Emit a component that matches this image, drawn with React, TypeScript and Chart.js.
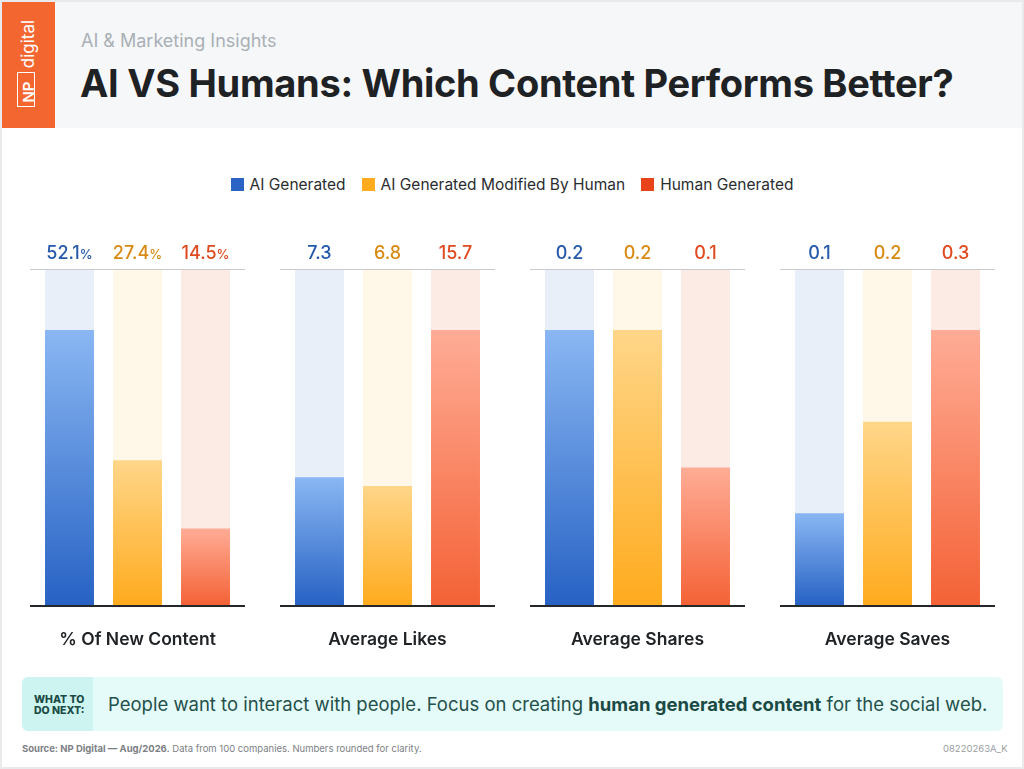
import { useEffect, useRef } from "react";
import { Chart, registerables } from "chart.js";

Chart.register(...registerables);

const FONT = "Inter, 'Noto Sans', sans-serif";

const categories = ["AI Generated", "AI Generated Modified By Human", "Human Generated"];
const newContentValues = [52.1, 27.4, 14.5];
const likesValues = [7.3, 6.8, 15.7];
const sharesValues = [0.2, 0.2, 0.1];
const savesValues = [0.1, 0.2, 0.3];

const barTop = ["#8ab7f3", "#ffd689", "#ffac96"];
const barBottom = ["#2762c4", "#ffab1e", "#f46236"];
const trackColors = ["#e8eff9", "#fff7e8", "#fceae5"];
const labelColors = ["#2559ab", "#d98a12", "#df4a20"];
const legendColors = ["#2a63c4", "#ffab1e", "#e8431a"];

interface PanelProps {
  title: string;
  values: number[];
  unit?: string;
}

const rulesAndLabels = {
  id: "rulesAndLabels",
  afterDraw(chart: any, _args: any, opts: any) {
    const { ctx, chartArea, width } = chart;
    ctx.save();
    ctx.fillStyle = "#c9cbce";
    ctx.fillRect(0, chartArea.top - 1, width, 1);
    ctx.fillStyle = "#25282b";
    ctx.fillRect(0, chartArea.bottom, width, 2);

    const meta = chart.getDatasetMeta(1);
    opts.values.forEach((v: number, i: number) => {
      const x = meta.data[i].x;
      const num = String(v);
      ctx.textBaseline = "alphabetic";
      ctx.fillStyle = labelColors[i];
      ctx.font = `500 18px ${FONT}`;
      const numW = ctx.measureText(num).width;
      ctx.font = `500 13px ${FONT}`;
      const unitW = opts.unit ? ctx.measureText(opts.unit).width : 0;
      const left = x - (numW + unitW) / 2;
      ctx.textAlign = "left";
      ctx.font = `500 18px ${FONT}`;
      ctx.fillText(num, left, chartArea.top - 11);
      if (opts.unit) {
        ctx.font = `500 13px ${FONT}`;
        ctx.fillText(opts.unit, left + numW, chartArea.top - 11);
      }
    });
    ctx.restore();
  },
};

const Panel = ({ title, values, unit }: PanelProps) => {
  const canvasRef = useRef<HTMLCanvasElement>(null);

  useEffect(() => {
    if (!canvasRef.current) return;

    // the tallest bar stops short of the top rule
    const yMax = (Math.max(...values) * 335) / 275;

    const chart = new Chart(canvasRef.current, {
      type: "bar",
      plugins: [rulesAndLabels],
      data: {
        labels: categories,
        datasets: [
          {
            data: values.map(() => yMax),
            backgroundColor: trackColors,
            order: 2,
            grouped: false,
            barPercentage: 0.72,
            categoryPercentage: 1,
          },
          {
            data: values,
            order: 1,
            grouped: false,
            barPercentage: 0.72,
            categoryPercentage: 1,
            backgroundColor: (c: any) => {
              const { chart: ch, dataIndex, parsed } = c;
              if (!ch.chartArea || !parsed) return barBottom[dataIndex];
              const top = ch.scales.y.getPixelForValue(parsed.y);
              const g = ch.ctx.createLinearGradient(0, top, 0, ch.chartArea.bottom);
              g.addColorStop(0, barTop[dataIndex]);
              g.addColorStop(1, barBottom[dataIndex]);
              return g;
            },
          },
        ],
      },
      options: {
        animation: false,
        responsive: false,
        layout: { padding: { top: 30, left: 5.5, right: 5.5 } },
        plugins: {
          legend: { display: false },
          tooltip: { enabled: false },
          rulesAndLabels: { values, unit },
        } as any,
        scales: {
          x: {
            grid: { display: false },
            border: { display: false },
            ticks: { display: false },
            title: {
              display: true,
              text: title,
              color: "#202326",
              font: { family: FONT, size: 17.5, weight: 600 },
              padding: { top: 19, bottom: 0 },
            },
            afterFit: (s: any) => {
              s.height = 45;
            },
          },
          y: { display: false, min: 0, max: yMax },
        },
      },
    });

    return () => chart.destroy();
  }, [title, values, unit]);

  return <canvas ref={canvasRef} width={215} height={410} style={{ display: "block" }} />;
};

const abs = (left: number, top: number, extra: any = {}) => ({
  position: "absolute" as const,
  left,
  top,
  whiteSpace: "nowrap" as const,
  ...extra,
});

export default function App() {
  return (
    <div
      style={{
        position: "absolute",
        left: 0,
        top: 0,
        width: 1024,
        height: 769,
        overflow: "hidden",
        background: "#fff",
        fontFamily: FONT,
        boxSizing: "border-box",
        border: "2px solid #e9eaec",
      }}
    >
      <div style={abs(-2, -2, { width: 1028, height: 773 })}>
        {/* header */}
        <div style={abs(2, 2, { width: 1020, height: 126, background: "#f6f7f9" })} />
        <div style={abs(2, 2, { width: 53, height: 126, background: "#f4662f" })} />
        <div
          style={abs(17, 72, {
            width: 16,
            height: 33,
            border: "1.5px solid #fff",
            boxSizing: "content-box",
          })}
        />
        <div
          style={abs(28, 92, {
            color: "#fff",
            fontSize: 15,
            fontWeight: 600,
            transform: "translate(-50%,-50%) rotate(-90deg)",
          })}
        >
          NP
        </div>
        <div
          style={abs(28, 44, {
            color: "#fff",
            fontSize: 17,
            fontWeight: 400,
            transform: "translate(-50%,-50%) rotate(-90deg)",
          })}
        >
          digital
        </div>
        <div style={abs(81, 30, { color: "#a9b0b6", fontSize: 18, lineHeight: "22px" })}>
          AI &amp; Marketing Insights
        </div>
        <div
          style={abs(80, 59, {
            color: "#1f2224",
            fontSize: 38,
            fontWeight: 700,
            lineHeight: "48px",
            letterSpacing: "-0.3px",
          })}
        >
          AI VS Humans: Which Content Performs Better?
        </div>

        {/* legend */}
        <div
          style={abs(0, 174, {
            width: 1024,
            height: 20,
            display: "flex",
            justifyContent: "center",
            alignItems: "center",
            gap: 16,
            fontSize: 15.5,
            color: "#2a2d30",
          })}
        >
          {categories.map((c, i) => (
            <div key={c} style={{ display: "flex", alignItems: "center", gap: 6 }}>
              <span style={{ width: 13, height: 13, background: legendColors[i] }} />
              {c}
            </div>
          ))}
        </div>

        {/* panels */}
        <div style={abs(30, 240, { display: "flex", gap: 35 })}>
          <Panel title="% Of New Content" values={newContentValues} unit="%" />
          <Panel title="Average Likes" values={likesValues} />
          <Panel title="Average Shares" values={sharesValues} />
          <Panel title="Average Saves" values={savesValues} />
        </div>

        {/* callout */}
        <div
          style={abs(22, 677, {
            width: 981,
            height: 54,
            background: "#e5fbf9",
            borderRadius: 6,
            overflow: "hidden",
          })}
        >
          <div
            style={abs(0, 0, {
              width: 71,
              height: 54,
              background: "#cdf4f0",
              color: "#1b4a45",
              fontSize: 10.5,
              fontWeight: 800,
              lineHeight: "11px",
              paddingLeft: 12,
              paddingTop: 17,
              boxSizing: "border-box",
            })}
          >
            WHAT TO
            <br />
            DO NEXT:
          </div>
          <div style={abs(86, 15, { color: "#24504b", fontSize: 18.5, lineHeight: "24px" })}>
            People want to interact with people. Focus on creating{" "}
            <b style={{ fontWeight: 700, color: "#1b4a45" }}>human generated content</b> for the social web.
          </div>
        </div>

        {/* footer */}
        <div style={abs(22, 742, { color: "#7c8085", fontSize: 9.5, lineHeight: "13px" })}>
          <b style={{ fontWeight: 700 }}>Source: NP Digital — Aug/2026.</b> Data from 100 companies. Numbers rounded for clarity.
        </div>
        <div style={abs(943, 742, { color: "#9a9ea2", fontSize: 9.5, lineHeight: "13px" })}>08220263A_K</div>
      </div>
    </div>
  );
}
